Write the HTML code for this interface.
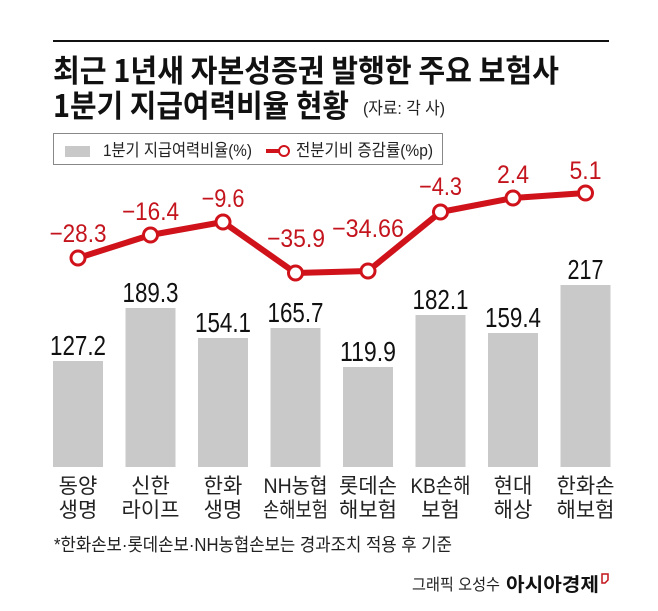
<!DOCTYPE html>
<html><head><meta charset="utf-8"><style>
html,body{margin:0;padding:0;background:#fff;}
svg{display:block;}
text{font-family:"Liberation Sans","Noto Sans CJK KR",sans-serif;}
</style></head><body>
<svg width="658" height="611" viewBox="0 0 658 611" xmlns="http://www.w3.org/2000/svg">
<rect width="658" height="611" fill="#fff"/>
<line x1="53" y1="41" x2="609" y2="41" stroke="#111" stroke-width="2"/>
<text x="53" y="82" font-size="31" font-weight="bold" fill="#111" textLength="506" lengthAdjust="spacingAndGlyphs" style="font-family:'Noto Sans CJK KR',sans-serif">최근 1년새 자본성증권 발행한 주요 보험사</text>
<text x="53" y="117" font-size="31" font-weight="bold" fill="#111" textLength="296" lengthAdjust="spacingAndGlyphs" style="font-family:'Noto Sans CJK KR',sans-serif">1분기 지급여력비율 현황</text>
<text x="363" y="114" font-size="17" fill="#222" textLength="82" lengthAdjust="spacingAndGlyphs">(자료: 각 사)</text>
<rect x="53.5" y="133.5" width="389" height="31" fill="#fff" stroke="#888" stroke-width="1"/>
<rect x="65" y="146" width="25" height="11" fill="#c8c8c8"/>
<text x="103" y="156" font-size="17" fill="#222" textLength="149" lengthAdjust="spacingAndGlyphs">1분기 지급여력비율(%)</text>
<line x1="266" y1="151" x2="280" y2="151" stroke="#d0121b" stroke-width="4"/>
<circle cx="284" cy="151" r="5" fill="#fff" stroke="#d0121b" stroke-width="2"/>
<text x="296" y="156" font-size="17" fill="#222" textLength="137" lengthAdjust="spacingAndGlyphs">전분기비 증감률(%p)</text>
<g fill="#c9c9c9">
<rect x="53" y="361" width="50" height="106"/>
<rect x="125.5" y="308" width="50" height="159"/>
<rect x="198" y="338" width="50" height="129"/>
<rect x="270.5" y="328" width="50" height="139"/>
<rect x="343" y="367" width="50" height="100"/>
<rect x="415.5" y="315" width="50" height="152"/>
<rect x="488" y="333" width="50" height="134"/>
<rect x="560.5" y="285" width="50" height="182"/>
</g>
<g font-size="28" fill="#111" text-anchor="middle">
<text x="78" y="355" textLength="56" lengthAdjust="spacingAndGlyphs">127.2</text>
<text x="150.5" y="302" textLength="56" lengthAdjust="spacingAndGlyphs">189.3</text>
<text x="223" y="332" textLength="56" lengthAdjust="spacingAndGlyphs">154.1</text>
<text x="295.5" y="322" textLength="56" lengthAdjust="spacingAndGlyphs">165.7</text>
<text x="368" y="361" textLength="56" lengthAdjust="spacingAndGlyphs">119.9</text>
<text x="440.5" y="309" textLength="56" lengthAdjust="spacingAndGlyphs">182.1</text>
<text x="513" y="327" textLength="56" lengthAdjust="spacingAndGlyphs">159.4</text>
<text x="585.5" y="279" textLength="36" lengthAdjust="spacingAndGlyphs">217</text>
</g>
<polyline points="78,258 150.5,235 223,222 295.5,273 368,271 440.5,212 513,198 585.5,193" fill="none" stroke="#d0121b" stroke-width="6" stroke-linejoin="round"/>
<g fill="#fff" stroke="#d0121b" stroke-width="3">
<circle cx="78" cy="258" r="7"/><circle cx="150.5" cy="235" r="7"/><circle cx="223" cy="222" r="7"/><circle cx="295.5" cy="273" r="7"/><circle cx="368" cy="271" r="7"/><circle cx="440.5" cy="212" r="7"/><circle cx="513" cy="198" r="7"/><circle cx="585.5" cy="193" r="7"/>
</g>
<g font-size="25" fill="#c4141d" text-anchor="middle">
<text x="78" y="242" textLength="57" lengthAdjust="spacingAndGlyphs">−28.3</text>
<text x="150.5" y="220" textLength="57" lengthAdjust="spacingAndGlyphs">−16.4</text>
<text x="223" y="207" textLength="43" lengthAdjust="spacingAndGlyphs">−9.6</text>
<text x="296" y="247" textLength="58" lengthAdjust="spacingAndGlyphs">−35.9</text>
<text x="368" y="237" textLength="72" lengthAdjust="spacingAndGlyphs">−34.66</text>
<text x="440.5" y="195" textLength="43" lengthAdjust="spacingAndGlyphs">−4.3</text>
<text x="513" y="183" textLength="32" lengthAdjust="spacingAndGlyphs">2.4</text>
<text x="585.5" y="179" textLength="32" lengthAdjust="spacingAndGlyphs">5.1</text>
</g>
<g font-size="21" fill="#222" text-anchor="middle">
<text x="78" y="493">동양</text><text x="78" y="517">생명</text>
<text x="150.5" y="493">신한</text><text x="150.5" y="517">라이프</text>
<text x="223" y="493">한화</text><text x="223" y="517">생명</text>
<text x="295.5" y="493" textLength="64" lengthAdjust="spacingAndGlyphs">NH농협</text><text x="295.5" y="517" textLength="65" lengthAdjust="spacingAndGlyphs">손해보험</text>
<text x="368" y="493">롯데손</text><text x="368" y="517">해보험</text>
<text x="440.5" y="493" textLength="60" lengthAdjust="spacingAndGlyphs">KB손해</text><text x="440.5" y="517">보험</text>
<text x="513" y="493">현대</text><text x="513" y="517">해상</text>
<text x="585.5" y="493">한화손</text><text x="585.5" y="517">해보험</text>
</g>
<text x="54" y="551" font-size="18" fill="#222" textLength="398" lengthAdjust="spacingAndGlyphs">*한화손보·롯데손보·NH농협손보는 경과조치 적용 후 기준</text>
<text x="412" y="590" font-size="16" fill="#222" textLength="88" lengthAdjust="spacingAndGlyphs">그래픽 오성수</text>
<text x="506" y="591" font-size="19" font-weight="bold" fill="#111" textLength="93" lengthAdjust="spacingAndGlyphs" style="font-family:'Noto Sans CJK KR',sans-serif">아시아경제</text>
<path d="M602 574 h6 v6 l-3 3 h-3 z" fill="none" stroke="#c4141d" stroke-width="1.5"/>
</svg>
</body></html>
